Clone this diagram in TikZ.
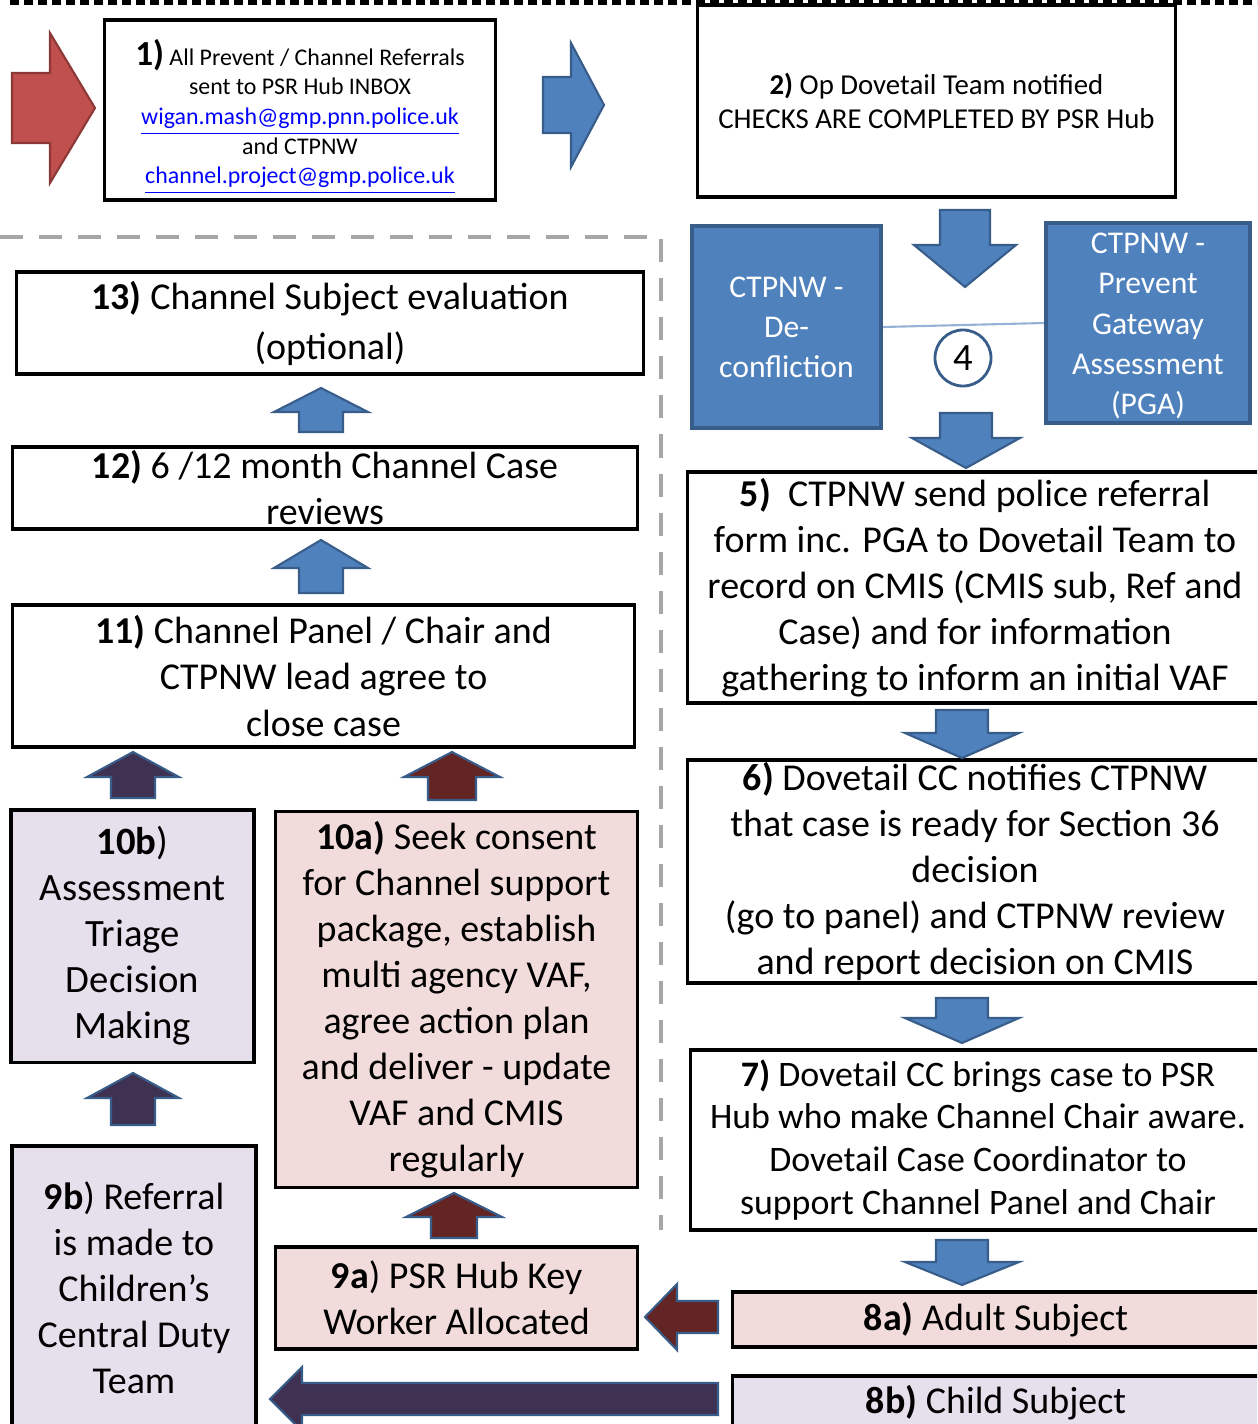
\documentclass[tikz,border=0pt]{standalone}
\usepackage{fontspec}
\setmainfont{Carlito}
\usepackage{xcolor}
\usepackage{tikz}

\definecolor{bluefill}{HTML}{4F81BD}
\definecolor{blueedge}{HTML}{385D8A}
\definecolor{redfill}{HTML}{C0504D}
\definecolor{rededge}{HTML}{8C3836}
\definecolor{maroonfill}{HTML}{632523}
\definecolor{plumfill}{HTML}{3F3151}
\definecolor{pinkfill}{HTML}{F2DCDB}
\definecolor{lilacfill}{HTML}{E5E0EC}
\definecolor{dashgray}{HTML}{A6A6A6}
\definecolor{linkblue}{HTML}{0000FF}
\definecolor{joinblue}{HTML}{95B3D7}

\tikzset{
  pics/fatarrow/.style args={#1/#2/#3/#4}{code={
    \draw[pic actions] (0,-#2) -- (#1-#4,-#2) -- (#1-#4,-#3) -- (#1,0)
      -- (#1-#4,#3) -- (#1-#4,#2) -- (0,#2) -- cycle;
  }},
}

\begin{document}
\begin{tikzpicture}[x=0.01cm, y=-0.01cm,
    box/.style={draw=black, line width=0.9pt, align=center, inner sep=0pt,
      font=\fontsize{10.8}{13.1}\selectfont},
    pinkbox/.style={box, fill=pinkfill},
    lilacbox/.style={box, fill=lilacfill},
    bluebox/.style={draw=blueedge, line width=1.2pt, fill=bluefill, text=white,
      align=center, inner sep=0pt, font=\fontsize{9}{11.4}\selectfont},
    arrowline/.style={line width=0.6pt, draw=blueedge},
    upblue/.style={arrowline, rotate=90, fill=bluefill},
    downblue/.style={arrowline, rotate=-90, fill=bluefill},
    upplum/.style={arrowline, rotate=90, fill=plumfill},
    upmaroon/.style={arrowline, rotate=90, fill=maroonfill},
    sepline/.style={dashgray, line width=1pt, dash pattern=on 0.23cm off 0.16cm}]
    \useasboundingbox (0,0) rectangle (1257,1424);
    \clip (0,0) rectangle (1257,1424);
    % Page edge and separator
    \draw[black, line width=1.5pt, dash pattern=on 0.09cm off 0.05cm] (10,2) -- (1257,2);
    \draw[sepline] (0,237) -- (661,237) -- (661,1230);
    % Referral in
    \node[box, minimum width=3.9cm, minimum height=1.8cm,
      font=\fontsize{6.8}{8.4}\selectfont] (refer) at (300,110) {};
    \node[align=center, inner sep=0pt, font=\fontsize{6.8}{8.4}\selectfont]
      (refertext) at (300,117)
      {{\fontsize{10}{10}\selectfont\bfseries 1)} All Prevent / Channel Referrals\\
       sent to PSR Hub INBOX\\
       \textcolor{linkblue}{\underline{wigan.mash@gmp.pnn.police.uk}}\\
       and CTPNW\\
       \textcolor{linkblue}{\underline{channel.project@gmp.police.uk}}};
    \node[box, minimum width=4.77cm, minimum height=1.92cm,
      font=\fontsize{8.2}{9.8}\selectfont] (notify) at (936.5,101)
      {\textbf{2)} Op Dovetail Team notified\\CHECKS ARE COMPLETED BY PSR Hub};
    % CTPNW checks
    \node[bluebox, minimum width=1.89cm, minimum height=2.02cm] (deconf) at (786.5,327)
      {CTPNW -\\De-\\confliction};
    \node[bluebox, minimum width=2.04cm, minimum height=2cm] (pga) at (1148,323) {};
    \node[align=center, inner sep=0pt, text=white, font=\fontsize{9}{11.4}\selectfont]
      (pgatext) at (1148,326) {CTPNW -\\Prevent\\Gateway\\Assessment\\(PGA)};
    \draw[joinblue, line width=0.6pt] (deconf.east) -- (pga.west);
    \node[circle, draw=blueedge, line width=0.8pt, fill=white, minimum size=0.56cm,
      inner sep=0pt, font=\fontsize{11}{11}\selectfont] (four) at (963,358) {4};
    % Right column
    \node[box, minimum width=5.74cm, minimum height=2.31cm] (police) at (975,587.5)
      {\textbf{5)}\ \ CTPNW send police referral\\
       form inc. PGA to Dovetail Team to\\
       record on CMIS (CMIS sub, Ref and\\
       Case) and for information\\
       gathering to inform an initial VAF};
    \node[box, minimum width=5.74cm, minimum height=2.23cm] (ready) at (975,871.5)
      {\textbf{6)} Dovetail CC notifies CTPNW\\
       that case is ready for Section 36\\
       decision\\
       (go to panel) and CTPNW review\\
       and report decision on CMIS};
    \node[box, minimum width=5.74cm, minimum height=1.8cm,
      font=\fontsize{10.2}{12.2}\selectfont] (hub) at (978,1140)
      {\textbf{7)} Dovetail CC brings case to PSR\\
       Hub who make Channel Chair aware.\\
       Dovetail Case Coordinator to\\
       support Channel Panel and Chair};
    \node[pinkbox, minimum width=5.26cm, minimum height=0.55cm] (adult) at (996,1319.5)
      {\textbf{8a)} Adult Subject};
    \node[lilacbox, minimum width=5.26cm, minimum height=0.54cm] (child) at (996,1403)
      {\textbf{8b)} Child Subject};
    % Left column
    \node[box, minimum width=6.26cm, minimum height=1.02cm,
      font=\fontsize{10.8}{14.2}\selectfont] (evalbox) at (330,323)
      {\textbf{13)} Channel Subject evaluation\\(optional)};
    \node[box, minimum width=6.24cm, minimum height=0.82cm] (review) at (325,488)
      {\textbf{12)} 6 /12 month Channel Case\\reviews};
    \node[box, minimum width=6.21cm, minimum height=1.42cm] (close) at (323.5,676)
      {\textbf{11)} Channel Panel / Chair and\\CTPNW lead agree to\\close case};
    \node[lilacbox, minimum width=2.43cm, minimum height=2.52cm,
      font=\fontsize{11}{13.1}\selectfont] (triage) at (132.5,936)
      {\textbf{10b})\\Assessment\\Triage\\Decision\\Making};
    \node[pinkbox, minimum width=3.61cm, minimum height=3.75cm] (consent) at (456.5,999.5)
      {\textbf{10a)} Seek consent\\for Channel support\\package, establish\\
       multi agency VAF,\\agree action plan\\and deliver - update\\VAF and CMIS\\regularly};
    \node[lilacbox, minimum width=2.44cm, minimum height=2.84cm] (cdt) at (134,1288)
      {\textbf{9b}) Referral\\is made to\\Children's\\Central Duty\\Team};
    \node[pinkbox, minimum width=3.61cm, minimum height=1.02cm] (keywork) at (456.5,1298)
      {\textbf{9a}) PSR Hub Key\\Worker Allocated};
    % Block arrows
    \pic[arrowline, draw=rededge, fill=redfill] at (12,108) {fatarrow=83/35/75/45};
    \pic[arrowline, fill=bluefill] at (543,105) {fatarrow=61/28/62/33};
    \pic[downblue] at (965,210) {fatarrow=77/25/51/42};
    \pic[downblue] at (966,413) {fatarrow=55/26/54/30};
    \pic[downblue] at (962,710) {fatarrow=48/26/57/25};
    \pic[downblue] at (962,998) {fatarrow=45/26/57/25};
    \pic[downblue] at (962,1240) {fatarrow=45/26/57/23};
    \pic[upblue] at (321,432) {fatarrow=44/22/47/24};
    \pic[upblue] at (321,593) {fatarrow=53/22/47/28};
    \pic[upplum] at (133,798) {fatarrow=46/22/46/25};
    \pic[upmaroon] at (452,800) {fatarrow=48/24/48/25};
    \pic[upplum] at (133,1125) {fatarrow=52/22/46/25};
    \pic[upmaroon] at (454,1238) {fatarrow=45/23/48/24};
    \pic[arrowline, rotate=180, fill=maroonfill] at (718,1317) {fatarrow=73/16/33/32};
    \pic[arrowline, rotate=180, fill=plumfill] at (718,1399) {fatarrow=448/16/32/32};
\end{tikzpicture}
\end{document}
